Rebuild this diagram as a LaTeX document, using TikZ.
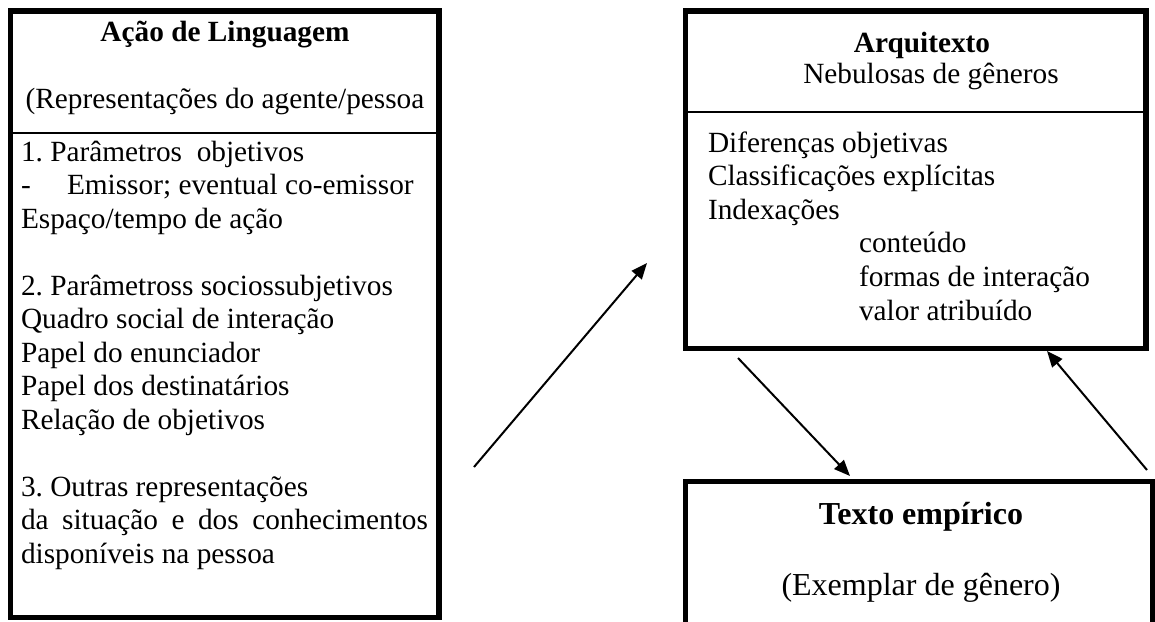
\documentclass[tikz,border=0pt]{standalone}
\usepackage{fontspec}
\setmainfont{Liberation Serif}
\usetikzlibrary{arrows.meta}
\begin{document}
\frenchspacing
\begin{tikzpicture}[x=1pt,y=-1pt,
  frame/.style={draw=black,line width=5.5pt,anchor=north west,inner sep=0pt,outer sep=0pt},
  divider/.style={line width=2pt},
  txt/.style={inner sep=0pt,outer sep=0pt,anchor=base west,font=\fontsize{29.3}{33.5}\selectfont},
  ctxt/.style={txt,anchor=base},
  conn/.style={line width=2pt,-{Triangle[length=16pt,width=13pt]}}]
\useasboundingbox (0,0) rectangle (1155,621);
\clip (0,0) rectangle (1155,621);
% boxes
\node[frame,minimum width=428.5pt,minimum height=606.5pt] (lang) at (10.5,11) {};
\node[frame,minimum width=460.5pt,minimum height=337.5pt] (arq) at (685.5,11) {};
\node[frame,minimum width=467pt,minimum height=180pt] (emp) at (685.5,481.5) {};
\draw[divider] (lang.west |- 0,133) -- (lang.east |- 0,133);
\draw[divider] (arq.west |- 0,112) -- (arq.east |- 0,112);
% left box text
\node[ctxt,font=\fontsize{29.3}{33.5}\selectfont\bfseries] (t1) at (225,41) {Ação de Linguagem};
\node[ctxt] (t2) at (225,108) {(Representações do agente/pessoa};
\node[txt] (l1) at (21,161) {1. Parâmetros\ \ objetivos};
\node[txt] (l2a) at (21,194.5) {-};
\node[txt] (l2b) at (67,194.5) {Emissor; eventual co-emissor};
\node[txt] (l3) at (21,228) {Espaço/tempo de ação};
\node[txt] (l4) at (21,295) {2. Parâmetross sociossubjetivos};
\node[txt] (l5) at (21,328.5) {Quadro social de interação};
\node[txt] (l6) at (21,362) {Papel do enunciador};
\node[txt] (l7) at (21,395.5) {Papel dos destinatários};
\node[txt] (l8) at (21,429) {Relação de objetivos};
\node[txt] (l9) at (21,496) {3. Outras representações};
\node[txt] (l10) at (21,529.5) {\makebox[407pt][s]{da situação e dos conhecimentos}};
\node[txt] (l11) at (21,563) {disponíveis na pessoa};
% right top box text
\node[ctxt,font=\fontsize{29.3}{33.5}\selectfont\bfseries] (a1) at (922,52) {Arquitexto};
\node[ctxt] (a2) at (931,83) {Nebulosas de gêneros};
\node[txt] (a3) at (708,152) {Diferenças objetivas};
\node[txt] (a4) at (708,185) {Classificações explícitas};
\node[txt] (a5) at (708,219) {Indexações};
\node[txt] (a6) at (859,252) {conteúdo};
\node[txt] (a7) at (859,286) {formas de interação};
\node[txt] (a8) at (859,320) {valor atribuído};
% bottom box text
\node[ctxt,font=\fontsize{32}{38}\selectfont\bfseries] (e1) at (921,524) {Texto empírico};
\node[ctxt,font=\fontsize{32}{38}\selectfont] (e2) at (921,595) {(Exemplar de gênero)};
% connectors
\coordinate (s1) at (474,467);
\coordinate (d1) at (647,263);
\coordinate (s2) at (738,358);
\coordinate (d2) at (850,476);
\coordinate (s3) at (1147,470);
\coordinate (d3) at (1047,351);
\draw[conn] (s1) -- (d1);
\draw[conn] (s2) -- (d2);
\draw[conn] (s3) -- (d3);
\end{tikzpicture}
\end{document}
